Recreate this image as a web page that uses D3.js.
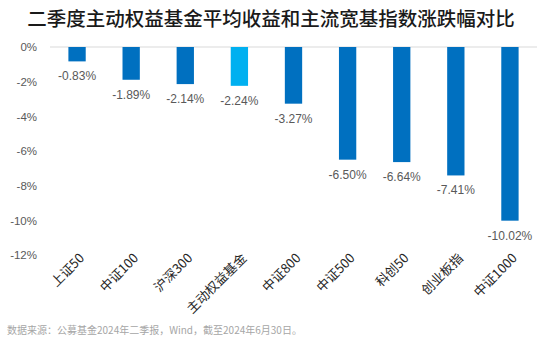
<!DOCTYPE html>
<html><head><meta charset="utf-8">
<script src="https://cdn.jsdelivr.net/npm/d3@7"></script>
<style>body{margin:0;background:#fff}svg{display:block}</style>
</head><body><svg id="c" width="541" height="344"></svg>
<script>
const categories = ["上证50","中证100","沪深300","主动权益基金","中证800","中证500","科创50","创业板指","中证1000"];
const values = [-0.83,-1.89,-2.14,-2.24,-3.27,-6.50,-6.64,-7.41,-10.02];
const highlight = ["主动权益基金"];
const yTicks = [0,-2,-4,-6,-8,-10,-12];
const title = "二季度主动权益基金平均收益和主流宽基指数涨跌幅对比";
const source = "数据来源：公募基金2024年二季报，Wind，截至2024年6月30日。";

const svg = d3.select("#c");
const font = "'Liberation Sans', Arial, 'Noto Sans CJK SC', sans-serif";
const cjk = "'Noto Sans CJK SC', sans-serif";
const x = d3.scaleBand().domain(categories).range([50, 537]).paddingInner(0.68).paddingOuter(0.34);
const y = d3.scaleLinear().domain([-12, 0]).range([255, 47]);

svg.append("text").attr("x", 271).attr("y", 26).attr("text-anchor","middle")
  .attr("font-family", cjk).attr("font-size", 19.5).attr("font-weight", 500).attr("fill", "#1a1a1a").text(title);

const yAxis = svg.append("g").attr("transform","translate(50,0)")
  .call(d3.axisLeft(y).tickValues(yTicks).tickSize(0).tickPadding(13).tickFormat(d => d + "%"));
yAxis.select(".domain").remove();
yAxis.selectAll("text").attr("font-family", font).attr("font-size", 11.5).attr("fill", "#595959");

svg.append("line").attr("x1", 50).attr("x2", 537).attr("y1", y(0)).attr("y2", y(0))
  .attr("stroke", "#d9d9d9").attr("stroke-width", 1.2);

svg.selectAll("rect.bar").data(values).join("rect").attr("class","bar")
  .attr("x", (d,i) => x(categories[i])).attr("width", x.bandwidth())
  .attr("y", y(0)).attr("height", d => y(d) - y(0))
  .attr("fill", (d,i) => highlight.includes(categories[i]) ? "#00B0F0" : "#0070C0");

svg.selectAll("text.val").data(values).join("text").attr("class","val")
  .attr("x", (d,i) => x(categories[i]) + x.bandwidth()/2).attr("y", d => y(d) + 19)
  .attr("text-anchor","middle").attr("font-family", font).attr("font-size", 12).attr("fill","#595959")
  .text(d => d.toFixed(2) + "%");

const xAxis = svg.append("g").attr("transform", `translate(0,${y(-12)})`)
  .call(d3.axisBottom(x).tickSize(0).tickPadding(0));
xAxis.select(".domain").remove();
xAxis.selectAll("text").attr("font-family", cjk).attr("font-size", 13).attr("fill", "#262626")
  .attr("text-anchor","end").attr("dy", 0)
  .attr("transform", "translate(8,4) rotate(-45)");

svg.append("text").attr("x", 7).attr("y", 334).attr("font-family", cjk).attr("font-size", 10)
  .attr("fill", "#a6a6a6").text(source);
</script></body></html>
